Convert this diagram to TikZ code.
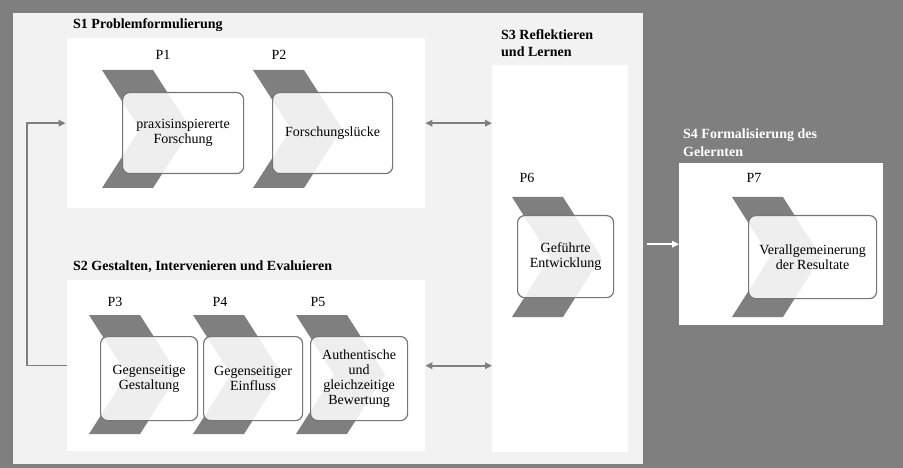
\documentclass[tikz,border=0pt]{standalone}
\usepackage{fontspec}
\setmainfont{Liberation Serif}
\usetikzlibrary{arrows.meta}
\definecolor{dg}{RGB}{127,127,127}
\definecolor{lg}{RGB}{242,242,242}
\definecolor{bd}{RGB}{118,118,118}
\newcommand\chevshape[3]{%
  \fill[dg] (#1,#2) -- ++(51,0) -- ++(38,#3/2) -- ++(-38,#3/2) -- ++(-51,0) -- ++(38,-#3/2) -- cycle;}
\begin{document}
\begin{tikzpicture}[x=1pt,y=-1pt,
  secbox/.style={fill=white, draw=none, anchor=north west, inner sep=0pt},
  pbox/.style={draw=bd, line width=1.2pt, rounded corners=7pt, fill=white, fill opacity=0.87, text opacity=1,
    align=center, font=\fontsize{14}{15}\selectfont, anchor=north west, inner sep=0pt},
  sectitle/.style={font=\bfseries\fontsize{14}{17.5}\selectfont, anchor=west, align=left, inner sep=0pt},
  plabel/.style={font=\fontsize{14}{16}\selectfont, inner sep=0pt},
  tip/.style={Triangle[length=7pt,width=6.5pt]},
  arr/.style={draw=dg, line width=1.5pt, -{Triangle[length=7pt,width=6.5pt]}},
  dbl/.style={draw=dg, line width=2pt, {Triangle[length=7pt,width=6.5pt]}-{Triangle[length=7pt,width=6.5pt]}},
  warr/.style={draw=white, line width=2pt, -{Triangle[length=7pt,width=6.5pt]}}
]
\useasboundingbox (0,0) rectangle (903,468);
\fill[dg] (0,0) rectangle (903,468);
% light panel
\node[fill=lg, minimum width=630pt, minimum height=451pt, anchor=north west, inner sep=0pt] (panel) at (13,13) {};
% section boxes
\node[secbox, minimum width=358pt, minimum height=170pt] (s1) at (67,38) {};
\node[secbox, minimum width=358pt, minimum height=171pt] (s2) at (67,280) {};
\node[secbox, minimum width=136pt, minimum height=387pt] (s3) at (492,65) {};
\node[secbox, minimum width=204pt, minimum height=162pt] (s4) at (679,163) {};
% titles
\node[sectitle] (t1) at (73,25) {S1 Problemformulierung};
\node[sectitle] (t2) at (73,267) {S2 Gestalten, Intervenieren und Evaluieren};
\node[sectitle] (t3) at (501,43) {S3 Reflektieren\\und Lernen};
\node[sectitle, text=white] (t4) at (683,142.5) {S4 Formalisierung des\\Gelernten};
% chevrons
\chevshape{102}{70}{118}
\chevshape{253}{70}{118}
\chevshape{89}{315}{119}
\chevshape{193}{315}{119}
\chevshape{296}{315}{119}
\chevshape{512}{197}{120}
\chevshape{732}{197}{120}
% process boxes
\node[pbox, minimum width=121pt, minimum height=81pt] (p1) at (122,92) {praxisinspiererte\\Forschung};
\node[pbox, minimum width=120pt, minimum height=81pt] (p2) at (272,92) {Forschungslücke};
\node[pbox, minimum width=97pt, minimum height=84pt] (p3) at (100,336) {Gegenseitige\\Gestaltung};
\node[pbox, minimum width=99pt, minimum height=84pt] (p4) at (203,336) {Gegenseitiger\\Einfluss};
\node[pbox, minimum width=97pt, minimum height=84pt] (p5) at (310,336) {Authentische\\und\\gleichzeitige\\Bewertung};
\node[pbox, minimum width=96pt, minimum height=82pt] (p6) at (517,215) {Geführte\\Entwicklung};
\node[pbox, minimum width=128pt, minimum height=83pt] (p7) at (748,215) {Verallgemeinerung\\der Resultate};
% P labels
\node[plabel] (l1) at (163,55) {P1};
\node[plabel] (l2) at (279,55) {P2};
\node[plabel] (l3) at (115,302) {P3};
\node[plabel] (l4) at (220,302) {P4};
\node[plabel] (l5) at (318,302) {P5};
\node[plabel] (l6) at (527,178) {P6};
\node[plabel] (l7) at (754,178) {P7};
% connectors
\draw[dbl] (s1.east) -- (s1.east -| s3.west);
\draw[dbl] (s2.east) -- (s2.east -| s3.west);
\draw[arr, shorten >=1.5pt] (s2.west) -- ++(-40,0) |- (s1.west);
\draw[warr, shorten <=4pt] (s4.west -| panel.east) -- (s4.west);
\end{tikzpicture}
\end{document}
